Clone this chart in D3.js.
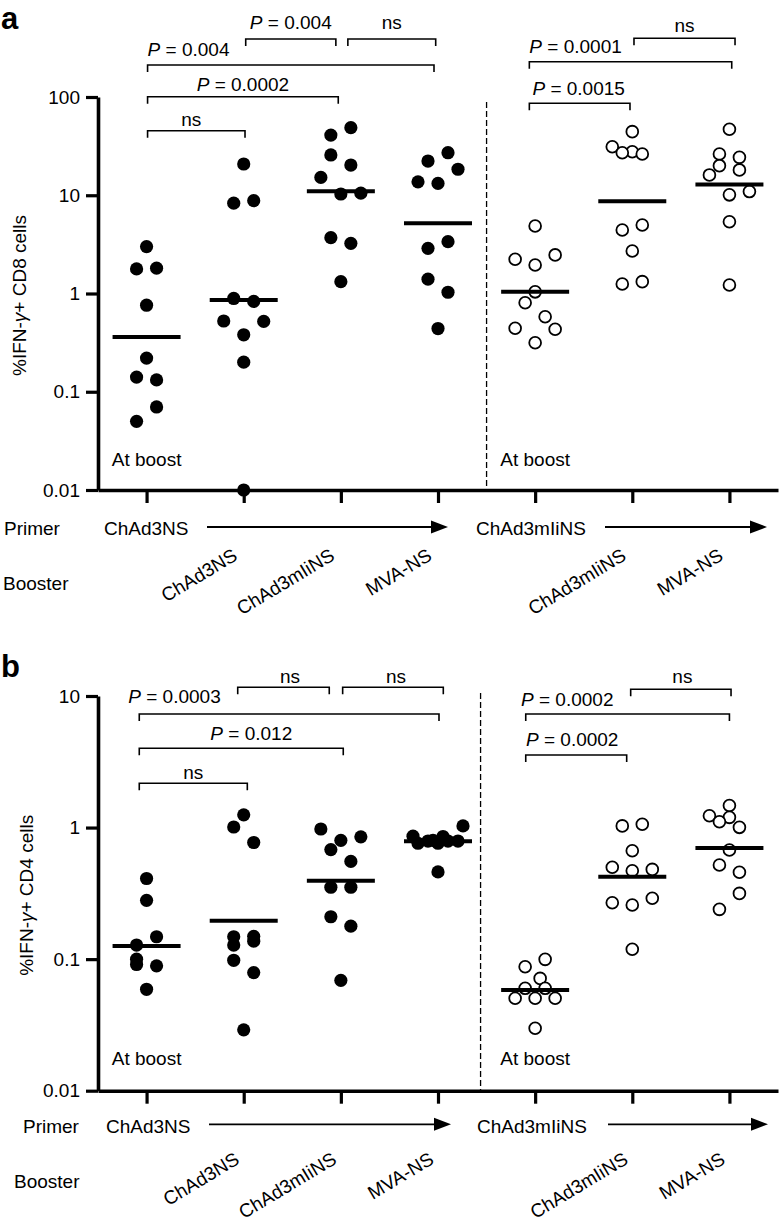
<!DOCTYPE html>
<html><head><meta charset="utf-8">
<script src="https://cdn.jsdelivr.net/npm/d3@7"></script>
<style>
body{margin:0;background:#fff}
svg{display:block}
text{font-family:"Liberation Sans",Arial,Helvetica,sans-serif;fill:#000}
</style>
</head><body>
<svg id="chart" width="780" height="1222"></svg>
<script>
// ---------- DATA ----------
const groups = ["ChAd3NS at boost", "ChAd3NS/ChAd3NS", "ChAd3NS/ChAd3mIiNS", "ChAd3NS/MVA-NS",
                "ChAd3mIiNS at boost", "ChAd3mIiNS/ChAd3mIiNS", "ChAd3mIiNS/MVA-NS"];
const primerOfGroup = [0, 0, 0, 0, 1, 1, 1];
const primers = ["ChAd3NS", "ChAd3mIiNS"];
const boosters = ["", "ChAd3NS", "ChAd3mIiNS", "MVA-NS", "", "ChAd3mIiNS", "MVA-NS"];
const atBoostGroups = [0, 4];

// %IFN-γ+ CD8 cells, per group
const cd8Values = [
  [3.0, 1.78, 1.81, 0.76, 0.22, 0.141, 0.132, 0.070, 0.050],
  [20.8, 8.3, 8.8, 0.89, 0.83, 0.525, 0.52, 0.38, 0.20, 0.01],
  [48.7, 41.0, 25.7, 20.3, 15.2, 10.3, 10.5, 3.70, 3.24, 1.32],
  [27.1, 22.3, 18.4, 13.7, 13.2, 3.37, 2.88, 1.40, 1.03, 0.44],
  [4.86, 2.47, 2.23, 1.95, 1.04, 0.805, 0.58, 0.443, 0.433, 0.315],
  [44.4, 31.2, 27.7, 27.1, 26.3, 4.98, 4.43, 2.71, 1.32, 1.25],
  [46.9, 26.3, 24.3, 20.0, 18.1, 16.1, 10.9, 10.1, 5.38, 1.22]
];
// scatter column of each point (dot-plot jitter slot)
const cd8Slots = [
  [0, -1, 1, 0, 0, -1, 1, 1, -1],
  [0, -1, 1, -1, 1, -2, 2, 0, 0, 0],
  [1, -1, -1, 1, -2, 0, 2, -1, 1, 0],
  [1, -1, 2, -2, 0, 1, -1, -1, 1, 0],
  [0, 2, -2, 0, 0, -1, 1, -2, 2, 0],
  [0, -2, 0, -1, 1, 1, -1, 0, 1, -1],
  [0, -1, 1, -1, 1, -2, 2, 0, 0, 0]
];
const cd8Medians = [0.36, 0.86, 11.0, 5.2, 1.04, 8.7, 12.9];
const cd8TickValues = [0.01, 0.1, 1, 10, 100];
const cd8TickLabels = ["0.01", "0.1", "1", "10", "100"];
const cd8Comparisons = [
  {from: 0, to: 1, label: "ns"},
  {from: 0, to: 2, label: "0.0002"},
  {from: 0, to: 3, label: "0.004"},
  {from: 1, to: 2, label: "0.004"},
  {from: 2, to: 3, label: "ns"},
  {from: 4, to: 5, label: "0.0015"},
  {from: 4, to: 6, label: "0.0001"},
  {from: 5, to: 6, label: "ns"}
];

// %IFN-γ+ CD4 cells, per group
const cd4Values = [
  [0.41, 0.28, 0.148, 0.128, 0.100, 0.091, 0.089, 0.059],
  [1.25, 1.01, 0.77, 0.149, 0.148, 0.137, 0.128, 0.098, 0.079, 0.029],
  [0.975, 0.85, 0.80, 0.68, 0.553, 0.352, 0.352, 0.21, 0.178, 0.069],
  [1.03, 0.86, 0.76, 0.79, 0.80, 0.76, 0.855, 0.79, 0.79, 0.46],
  [0.0996, 0.0876, 0.0714, 0.060, 0.060, 0.0504, 0.0504, 0.0504, 0.0298],
  [1.06, 1.03, 0.667, 0.499, 0.481, 0.47, 0.29, 0.268, 0.258, 0.119],
  [1.47, 1.23, 1.196, 1.107, 1.004, 0.675, 0.519, 0.457, 0.316, 0.239]
];
const cd4Slots = [
  [0, 0, 1, -1, -1, -1, 1, 0],
  [0, -1, 1, 1, -1, 1, -1, -1, 1, 0],
  [-2, 2, 0, -1, 1, -1, 1, -1, 1, 0],
  [2.5, -2.5, -2, -1, -0.5, 0, 0.5, 1, 2, 0],
  [1, -1, 0.5, -1, 1, -2, 0, 2, 0],
  [1, -1, 0, -2, 2, 0, 2, -2, 0, 0],
  [0, -2, 0, -1, 1, 0, -1, 1, 1, -1]
];
const cd4Medians = [0.126, 0.196, 0.395, 0.786, 0.0582, 0.423, 0.698];
const cd4TickValues = [0.01, 0.1, 1, 10];
const cd4TickLabels = ["0.01", "0.1", "1", "10"];
const cd4Comparisons = [
  {from: 0, to: 1, label: "ns"},
  {from: 0, to: 2, label: "0.012"},
  {from: 0, to: 3, label: "0.0003"},
  {from: 1, to: 2, label: "ns"},
  {from: 2, to: 3, label: "ns"},
  {from: 4, to: 5, label: "0.0002"},
  {from: 4, to: 6, label: "0.0002"},
  {from: 5, to: 6, label: "ns"}
];

// ---------- LAYOUT ----------
const W = 780, H = 1222;
const svg = d3.select("#chart");
svg.append("rect").attr("width", W).attr("height", H).attr("fill", "#fff");

const x = d3.scalePoint().domain(d3.range(groups.length)).range([98, 778]).padding(0.5);
const SLOT = 10;

const panels = [
  {
    letter: "a", letterY: 29, cell: "CD8",
    values: cd8Values, slots: cd8Slots, medians: cd8Medians,
    tickValues: cd8TickValues, tickLabels: cd8TickLabels, comparisons: cd8Comparisons,
    yRange: [490, 97], yLabelX: 26,
    dashDx: 0, dashTop: 102,
    atBoostDy: -24,
    primerLabelX: 4, boosterLabelX: 3, primerDy: 45, boosterDy: 100, arrowDy: 37,
    primerTextX: [104, 476], arrowX: [[207, 448], [605, 767]],
    rotDy: 69, rotDx: -5,
    // bracket placement: y, end offsets, label anchor/offset/baseline
    bracketLayout: [
      {y: 130.7, d1: 1, d2: 1.3, anchor: "middle", ldx: -5, ly: 125.5},
      {y: 96.7, d1: 1, d2: -2.6, anchor: "middle", ldx: 0, ly: 90.7},
      {y: 65, d1: 1, d2: -4, anchor: "start", ldx: 0, ly: 56},
      {y: 39, d1: 2, d2: -5, anchor: "middle", ldx: 0, ly: 29.3},
      {y: 39, d1: 7, d2: -2.3, anchor: "middle", ldx: 0, ly: 29.3},
      {y: 103.3, d1: -5.8, d2: -2.3, anchor: "middle", ldx: -1, ly: 95},
      {y: 61.7, d1: -5.8, d2: 2.3, anchor: "start", ldx: 0, ly: 53.3},
      {y: 38.3, d1: 1.7, d2: 5.6, anchor: "middle", ldx: 0, ly: 32}
    ]
  },
  {
    letter: "b", letterY: 677, cell: "CD4",
    values: cd4Values, slots: cd4Slots, medians: cd4Medians,
    tickValues: cd4TickValues, tickLabels: cd4TickLabels, comparisons: cd4Comparisons,
    yRange: [1090.7, 696], yLabelX: 33,
    dashDx: -6, dashTop: 693,
    atBoostDy: -26,
    primerLabelX: 23, boosterLabelX: 14, primerDy: 42, boosterDy: 97, arrowDy: 33.6,
    primerTextX: [106, 477], arrowX: [[209, 451], [608, 768]],
    rotDy: 72, rotDx: -3,
    bracketLayout: [
      {y: 783.3, d1: -7.3, d2: 3.6, anchor: "middle", ldx: 0, ly: 779.3},
      {y: 748.3, d1: -7.3, d2: 2.4, anchor: "middle", ldx: 10, ly: 740},
      {y: 714, d1: -7.3, d2: 1, anchor: "start", ldx: -11, ly: 703.3},
      {y: 687.3, d1: -6, d2: -11.6, anchor: "middle", ldx: 6.5, ly: 683.3},
      {y: 687.3, d1: 1.8, d2: 5.3, anchor: "middle", ldx: 3, ly: 683.3},
      {y: 755, d1: -9.4, d2: -5.6, anchor: "middle", ldx: -4, ly: 745.7},
      {y: 714, d1: -9.4, d2: 0, anchor: "start", ldx: -4.7, ly: 706},
      {y: 689.3, d1: -1.6, d2: 1.6, anchor: "middle", ldx: 1.5, ly: 683.3}
    ]
  }
];

const FS = 19;

panels.forEach(p => {
  const g = svg.append("g");
  const y = d3.scaleLog().domain([0.01, p.tickValues[p.tickValues.length - 1]]).range(p.yRange);
  const axisY = p.yRange[0];

  // panel letter
  g.append("text").attr("x", 1).attr("y", p.letterY)
    .attr("font-size", 31).attr("font-weight", "bold").text(p.letter);

  // y axis
  const yAxis = d3.axisLeft(y).tickValues(p.tickValues)
    .tickFormat((d, i) => p.tickLabels[i]).tickSize(12).tickSizeOuter(0).tickPadding(6);
  const ya = g.append("g").attr("transform", "translate(98,0)").call(yAxis);
  ya.select(".domain").attr("stroke", "#000").attr("stroke-width", 3.6);
  ya.selectAll(".tick line").attr("stroke", "#000").attr("stroke-width", 3.2);
  ya.selectAll(".tick text").attr("font-size", FS).attr("font-family", "Liberation Sans, Arial, sans-serif").attr("fill", "#000");

  // x axis
  const xAxis = d3.axisBottom(x).tickSize(13).tickSizeOuter(0).tickFormat("");
  const xa = g.append("g").attr("transform", `translate(0,${axisY})`).call(xAxis);
  xa.select(".domain").attr("stroke", "#000").attr("stroke-width", 3.6);
  xa.selectAll(".tick line").attr("stroke", "#000").attr("stroke-width", 3.2);

  // y label
  const yl = g.append("text")
    .attr("transform", `translate(${p.yLabelX},${(p.yRange[0] + p.yRange[1]) / 2 + 2}) rotate(-90)`)
    .attr("text-anchor", "middle").attr("font-size", FS);
  yl.append("tspan").text("%IFN-");
  yl.append("tspan").attr("font-style", "italic").text("γ");
  yl.append("tspan").text(`+ ${p.cell} cells`);

  // dashed separator
  const dashX = (x(3) + x(4)) / 2 + p.dashDx;
  g.append("line").attr("x1", dashX).attr("x2", dashX).attr("y1", p.dashTop).attr("y2", axisY)
    .attr("stroke", "#000").attr("stroke-width", 1.3).attr("stroke-dasharray", "6,3");

  // points
  p.values.forEach((vals, gi) => {
    const filled = primerOfGroup[gi] === 0;
    g.append("g").selectAll("circle").data(vals).join("circle")
      .attr("cx", (d, i) => x(gi) + p.slots[gi][i] * SLOT)
      .attr("cy", d => y(d))
      .attr("r", filled ? 6.6 : 5.9)
      .attr("fill", filled ? "#000" : "#fff")
      .attr("stroke", "#000")
      .attr("stroke-width", filled ? 0 : 1.8);
  });

  // medians
  g.append("g").selectAll("line").data(p.medians).join("line")
    .attr("x1", (d, i) => x(i) - 34).attr("x2", (d, i) => x(i) + 34)
    .attr("y1", d => y(d)).attr("y2", d => y(d))
    .attr("stroke", "#000").attr("stroke-width", 4);

  // at boost labels
  atBoostGroups.forEach(gi => {
    g.append("text").attr("x", x(gi)).attr("y", axisY + p.atBoostDy)
      .attr("text-anchor", "middle").attr("font-size", FS).text("At boost");
  });

  // comparison brackets
  p.comparisons.forEach((c, i) => {
    const L = p.bracketLayout[i];
    const x1 = x(c.from) + L.d1, x2 = x(c.to) + L.d2;
    g.append("path")
      .attr("d", `M${x1},${L.y + 7}V${L.y}H${x2}V${L.y + 7}`)
      .attr("fill", "none").attr("stroke", "#000").attr("stroke-width", 1.6);
    const lx = L.anchor === "start" ? x1 + L.ldx : (x1 + x2) / 2 + L.ldx;
    const t = g.append("text").attr("x", lx).attr("y", L.ly)
      .attr("text-anchor", L.anchor).attr("font-size", FS);
    if (c.label === "ns") {
      t.text("ns");
    } else {
      t.append("tspan").attr("font-style", "italic").text("P");
      t.append("tspan").text(" = " + c.label);
    }
  });

  // primer row
  g.append("text").attr("x", p.primerLabelX).attr("y", axisY + p.primerDy)
    .attr("font-size", FS).text("Primer");
  g.append("text").attr("x", p.boosterLabelX).attr("y", axisY + p.boosterDy)
    .attr("font-size", FS).text("Booster");
  primers.forEach((pr, k) => {
    g.append("text").attr("x", p.primerTextX[k]).attr("y", axisY + p.primerDy)
      .attr("font-size", FS).text(pr);
    const [ax1, ax2] = p.arrowX[k];
    const ay = axisY + p.arrowDy;
    g.append("line").attr("x1", ax1).attr("x2", ax2 - 14).attr("y1", ay).attr("y2", ay)
      .attr("stroke", "#000").attr("stroke-width", 1.8);
    g.append("path").attr("d", `M${ax2},${ay}L${ax2 - 17},${ay - 6.5}L${ax2 - 17},${ay + 6.5}Z`)
      .attr("fill", "#000");
  });

  // booster labels (rotated)
  boosters.forEach((b, gi) => {
    if (!b) return;
    g.append("text")
      .attr("transform", `translate(${x(gi) + p.rotDx},${axisY + p.rotDy}) rotate(-31)`)
      .attr("text-anchor", "end").attr("font-size", FS).text(b);
  });
});
</script>
</body></html>
